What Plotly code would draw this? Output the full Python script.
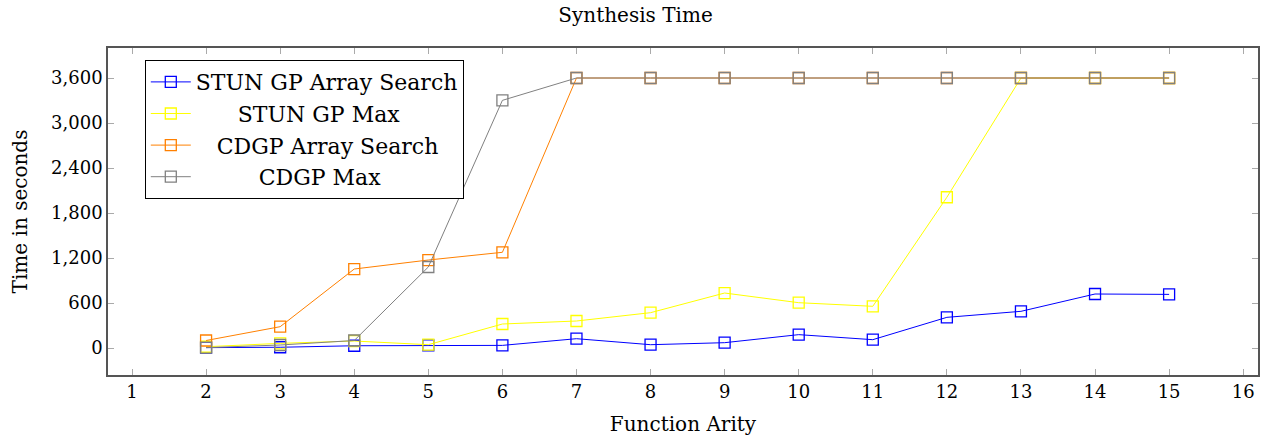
import plotly.graph_objects as go

arity = [2, 3, 4, 5, 6, 7, 8, 9, 10, 11, 12, 13, 14, 15]
stun_array = [5, 10, 30, 35, 35, 124, 44, 71, 178, 111, 409, 489, 720, 715]
stun_max = [17, 62, 93, 44, 320, 360, 471, 733, 604, 556, 2010, 3600, 3600, 3600]
cdgp_array = [100, 284, 1053, 1173, 1276, 3600, 3600, 3600, 3600, 3600, 3600, 3600, 3600, 3600]
cdgp_max = [5, 40, 100, 1080, 3302, 3600, 3600, 3600, 3600, 3600, 3600, 3600, 3600, 3600]

series_names = ["STUN GP Array Search", "STUN GP Max", "CDGP Array Search", "CDGP Max"]
series_values = [stun_array, stun_max, cdgp_array, cdgp_max]
series_colors = ["#0000ff", "#ffff00", "#ff8000", "#808080"]

x_ticks = list(range(1, 17))
y_ticks = [0, 600, 1200, 1800, 2400, 3000, 3600]

FONT = "DejaVu Serif"
NB = "\u00a0"
# pad legend labels so they appear centered like the reference legend
pad = [0, 6, 3, 9]

fig = go.Figure()
for name, vals, color, p in zip(series_names, series_values, series_colors, pad):
    fig.add_trace(go.Scatter(
        x=arity, y=vals, name=NB * p + name, mode="lines+markers",
        line=dict(color=color, width=1),
        marker=dict(symbol="square-open", size=11, color=color, line=dict(width=1.3, color=color)),
    ))

fig.update_layout(
    width=1271, height=441,
    margin=dict(l=108, r=13, t=48, b=66, autoexpand=False),
    paper_bgcolor="white", plot_bgcolor="white",
    font=dict(family=FONT, size=18, color="black"),
    title=dict(text="Synthesis Time", x=0.5, xanchor="center", y=0.965, yanchor="middle",
               font=dict(family=FONT, size=20, color="black")),
    legend=dict(x=0.032, y=0.963, xanchor="left", yanchor="top",
                bgcolor="white", bordercolor="black", borderwidth=1,
                font=dict(family=FONT, size=22, color="black"),
                tracegroupgap=0, itemwidth=40),
    showlegend=True,
)
fig.update_xaxes(
    range=[0.676, 16.2], tickvals=x_ticks, ticktext=[str(t) for t in x_ticks],
    ticks="inside", ticklen=6, tickcolor="#aaaaaa", showgrid=False, zeroline=False,
    showline=True, linecolor="#555555", linewidth=1.5, mirror="allticks",
    tickfont=dict(family=FONT, size=18), automargin=False,
    title=dict(text="Function Arity", font=dict(family=FONT, size=20), standoff=16),
)
fig.update_yaxes(
    range=[-360, 4000], tickvals=y_ticks, tickformat=",",
    ticks="inside", ticklen=6, tickcolor="#aaaaaa", showgrid=False, zeroline=False,
    showline=True, linecolor="#555555", linewidth=1.5, mirror="allticks",
    tickfont=dict(family=FONT, size=18), automargin=False,
    title=dict(text="Time in seconds", font=dict(family=FONT, size=20), standoff=18),
)

fig.write_html("out.html", config={"displayModeBar": False},
               post_script="document.body.style.margin='0';document.body.style.overflow='hidden';")
